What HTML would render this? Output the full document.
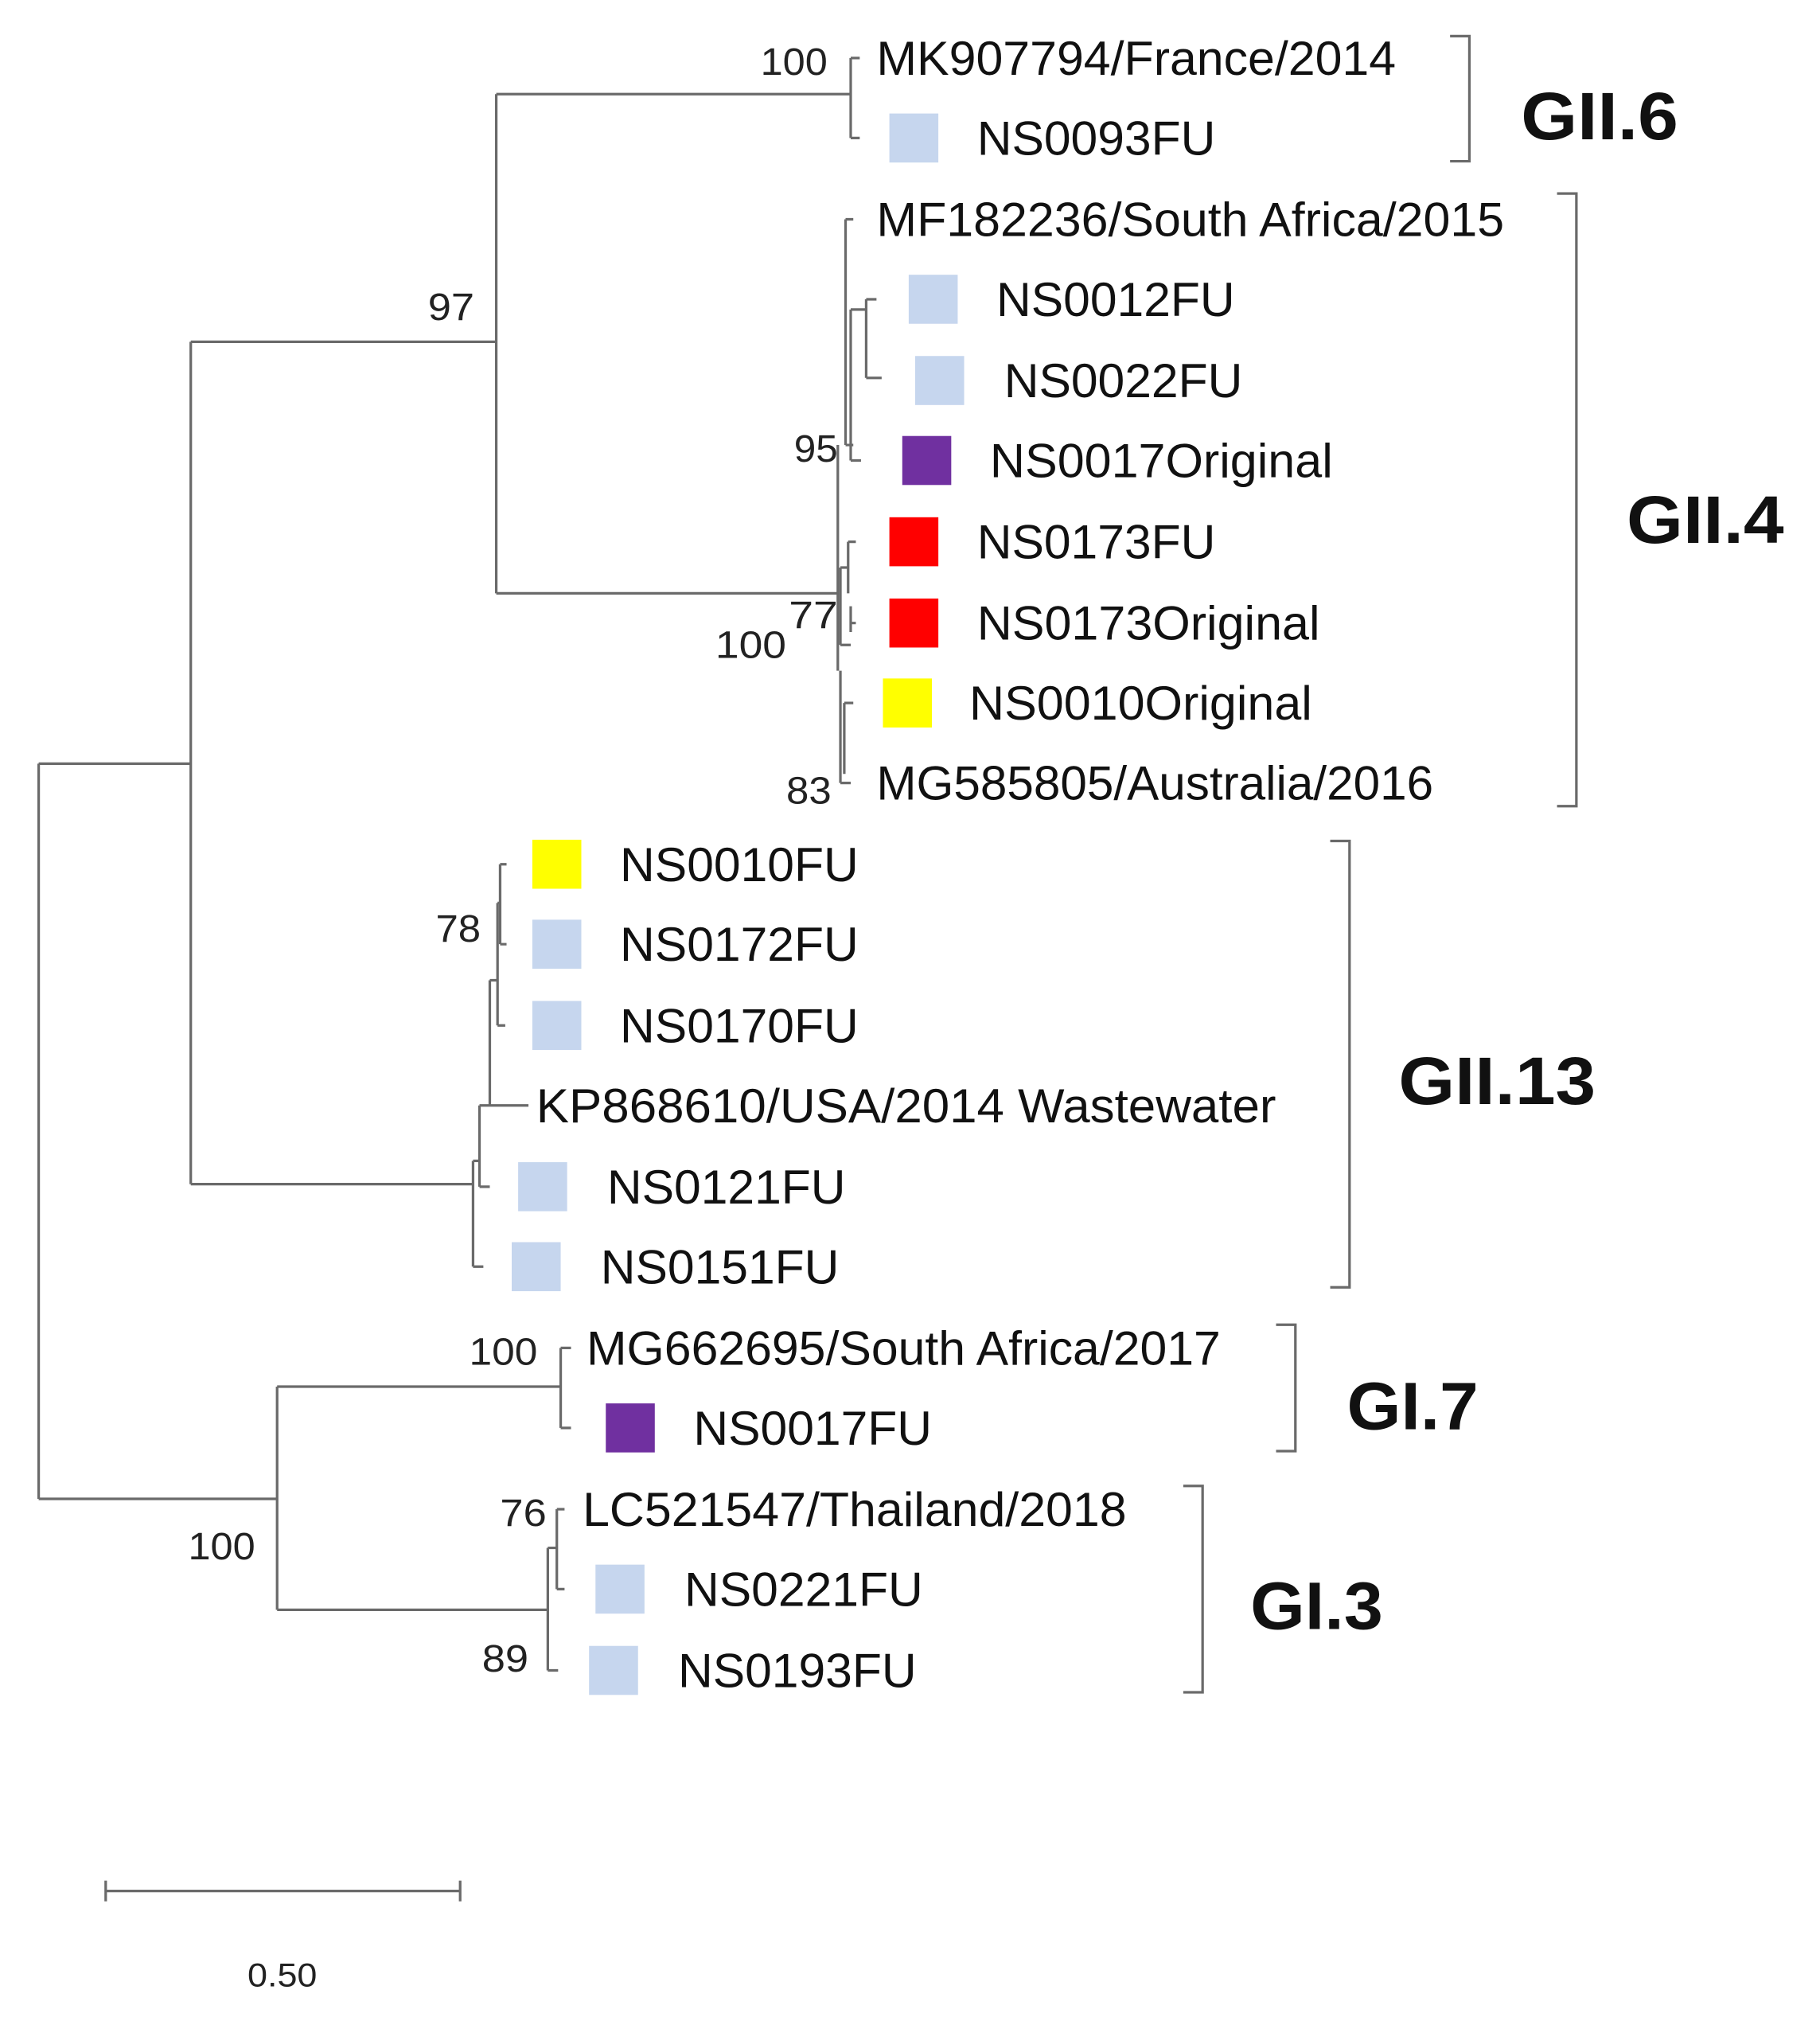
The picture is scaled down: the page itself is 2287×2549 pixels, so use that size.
<!DOCTYPE html>
<html><head><meta charset="utf-8"><style>html,body{margin:0;padding:0;background:#fff}svg{display:block}</style></head><body>
<svg width="2287" height="2549" viewBox="0 0 1412 1573" preserveAspectRatio="none" xmlns="http://www.w3.org/2000/svg">
<g fill="none" stroke="#6a6a6a" stroke-width="2">
<path d="M30 592V1162M30 592H148M30 1162H215"/>
<path d="M148 265V918M148 265H385M148 918H367"/>
<path d="M385 73V460M385 73H660M385 460H650"/>
<path d="M660 45V107M660 45H667M660 107H667"/>
<path d="M650 345V520M652 520V607M652 607H660"/>
<path d="M656 170V345M656 170H662M656 345H662"/>
<path d="M660 240V357M660 357H668M660 240H672"/>
<path d="M672 232V293M672 232H680M672 293H684"/>
<path d="M652 440V500M652 440H658M652 500H660"/>
<path d="M658 420V460M658 420H664M660 483H664M660 470V490"/>
<path d="M655 545V600M655 545H662"/>
<path d="M367 900V982M367 982H375M367 900H372"/>
<path d="M372 857V920M372 920H380M372 857H380"/>
<path d="M380 760V857M380 857H410M380 760H386"/>
<path d="M386 700V795M386 795H392M386 700H388"/>
<path d="M388 670V732M388 670H393M388 732H393"/>
<path d="M215 1075V1248M215 1075H435M215 1248H425"/>
<path d="M435 1045V1107M435 1045H443M435 1107H443"/>
<path d="M425 1200V1295M425 1295H433M425 1200H432"/>
<path d="M432 1170V1232M432 1170H438M432 1232H438"/>
<path d="M1125 28H1140V125H1125"/>
<path d="M1208 150H1223V625H1208"/>
<path d="M1032 652H1047V998H1032"/>
<path d="M990 1027H1005V1125H990"/>
<path d="M918 1152H933V1312H918"/>
<path d="M82 1466H357M82 1458V1474M357 1458V1474"/>
</g>
<g>
<rect x="690" y="88" width="38" height="38" fill="#c6d6ee"/>
<rect x="705" y="213" width="38" height="38" fill="#c6d6ee"/>
<rect x="710" y="276" width="38" height="38" fill="#c6d6ee"/>
<rect x="700" y="338" width="38" height="38" fill="#7030a0"/>
<rect x="690" y="401" width="38" height="38" fill="#ff0000"/>
<rect x="690" y="464" width="38" height="38" fill="#ff0000"/>
<rect x="685" y="526" width="38" height="38" fill="#ffff00"/>
<rect x="413" y="651" width="38" height="38" fill="#ffff00"/>
<rect x="413" y="713" width="38" height="38" fill="#c6d6ee"/>
<rect x="413" y="776" width="38" height="38" fill="#c6d6ee"/>
<rect x="402" y="901" width="38" height="38" fill="#c6d6ee"/>
<rect x="397" y="963" width="38" height="38" fill="#c6d6ee"/>
<rect x="470" y="1088" width="38" height="38" fill="#7030a0"/>
<rect x="462" y="1213" width="38" height="38" fill="#c6d6ee"/>
<rect x="457" y="1276" width="38" height="38" fill="#c6d6ee"/>
</g>
<g font-family="Liberation Sans, sans-serif" font-size="37" fill="#111" lengthAdjust="spacingAndGlyphs">
<text x="680" y="58" textLength="403" lengthAdjust="spacingAndGlyphs">MK907794/France/2014</text>
<text x="758" y="120" textLength="185" lengthAdjust="spacingAndGlyphs">NS0093FU</text>
<text x="680" y="183" textLength="487" lengthAdjust="spacingAndGlyphs">MF182236/South Africa/2015</text>
<text x="773" y="245" textLength="185" lengthAdjust="spacingAndGlyphs">NS0012FU</text>
<text x="779" y="308" textLength="185" lengthAdjust="spacingAndGlyphs">NS0022FU</text>
<text x="768" y="370" textLength="266" lengthAdjust="spacingAndGlyphs">NS0017Original</text>
<text x="758" y="433" textLength="185" lengthAdjust="spacingAndGlyphs">NS0173FU</text>
<text x="758" y="496" textLength="266" lengthAdjust="spacingAndGlyphs">NS0173Original</text>
<text x="752" y="558" textLength="266" lengthAdjust="spacingAndGlyphs">NS0010Original</text>
<text x="680" y="620" textLength="432" lengthAdjust="spacingAndGlyphs">MG585805/Australia/2016</text>
<text x="481" y="683" textLength="185" lengthAdjust="spacingAndGlyphs">NS0010FU</text>
<text x="481" y="745" textLength="185" lengthAdjust="spacingAndGlyphs">NS0172FU</text>
<text x="481" y="808" textLength="185" lengthAdjust="spacingAndGlyphs">NS0170FU</text>
<text x="416" y="870" textLength="574" lengthAdjust="spacingAndGlyphs">KP868610/USA/2014 Wastewater</text>
<text x="471" y="933" textLength="185" lengthAdjust="spacingAndGlyphs">NS0121FU</text>
<text x="466" y="995" textLength="185" lengthAdjust="spacingAndGlyphs">NS0151FU</text>
<text x="455" y="1058" textLength="492" lengthAdjust="spacingAndGlyphs">MG662695/South Africa/2017</text>
<text x="538" y="1120" textLength="185" lengthAdjust="spacingAndGlyphs">NS0017FU</text>
<text x="452" y="1183" textLength="422" lengthAdjust="spacingAndGlyphs">LC521547/Thailand/2018</text>
<text x="531" y="1245" textLength="185" lengthAdjust="spacingAndGlyphs">NS0221FU</text>
<text x="526" y="1308" textLength="185" lengthAdjust="spacingAndGlyphs">NS0193FU</text>
</g>
<g font-family="Liberation Sans, sans-serif" font-size="30" fill="#222">
<text x="590" y="58" textLength="52" lengthAdjust="spacingAndGlyphs">100</text>
<text x="332" y="248" textLength="36" lengthAdjust="spacingAndGlyphs">97</text>
<text x="616" y="358" textLength="34" lengthAdjust="spacingAndGlyphs">95</text>
<text x="555" y="510" textLength="55" lengthAdjust="spacingAndGlyphs">100</text>
<text x="612" y="487" textLength="38" lengthAdjust="spacingAndGlyphs">77</text>
<text x="610" y="623" textLength="35" lengthAdjust="spacingAndGlyphs">83</text>
<text x="338" y="730" textLength="35" lengthAdjust="spacingAndGlyphs">78</text>
<text x="364" y="1058" textLength="53" lengthAdjust="spacingAndGlyphs">100</text>
<text x="146" y="1209" textLength="52" lengthAdjust="spacingAndGlyphs">100</text>
<text x="388" y="1183" textLength="36" lengthAdjust="spacingAndGlyphs">76</text>
<text x="374" y="1296" textLength="36" lengthAdjust="spacingAndGlyphs">89</text>
<text x="192" y="1540" font-size="26" textLength="54" lengthAdjust="spacingAndGlyphs">0.50</text>
</g>
<g font-family="Liberation Sans, sans-serif" font-size="52" font-weight="bold" fill="#111">
<text x="1180" y="108" textLength="122" lengthAdjust="spacingAndGlyphs">GII.6</text>
<text x="1262" y="421" textLength="122" lengthAdjust="spacingAndGlyphs">GII.4</text>
<text x="1085" y="856" textLength="153" lengthAdjust="spacingAndGlyphs">GII.13</text>
<text x="1045" y="1108" textLength="102" lengthAdjust="spacingAndGlyphs">GI.7</text>
<text x="970" y="1263" textLength="103" lengthAdjust="spacingAndGlyphs">GI.3</text>
</g>
</svg>
</body></html>
